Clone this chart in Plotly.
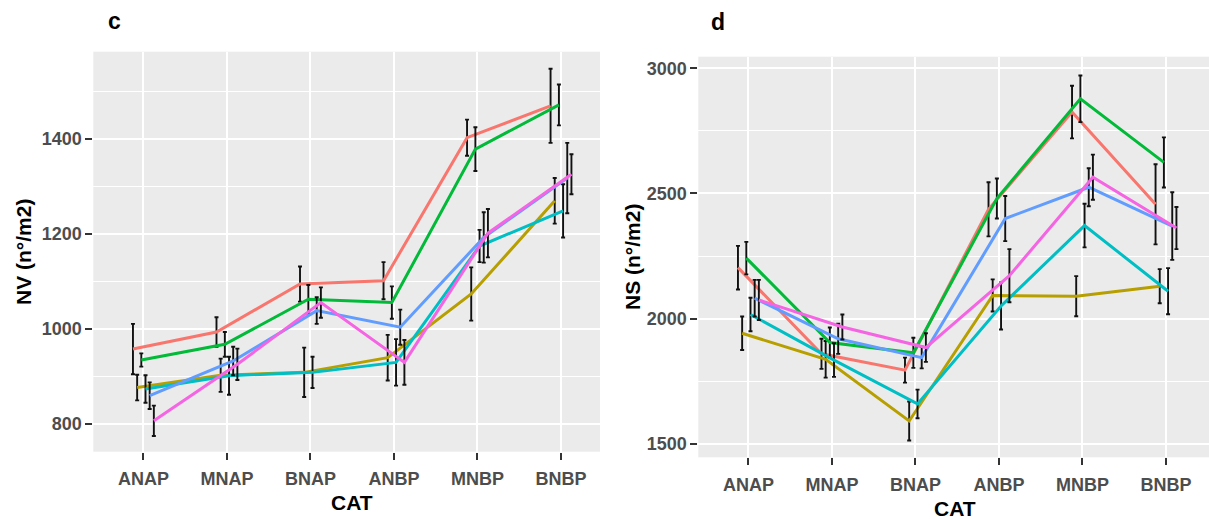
import plotly.graph_objects as go

# Categories on the x axis
categories = ["ANAP", "MNAP", "BNAP", "ANBP", "MNBP", "BNBP"]

# Six treatment groups, ggplot hue palette order
group_names = ["T1", "T2", "T3", "T4", "T5", "T6"]
group_colors = ["#F8766D", "#B79F00", "#00BA38", "#00BFC4", "#619CFF", "#F564E3"]

# Panel c: NV (n°/m2) means and error half-widths
nv_t1 = [958, 994, 1095, 1102, 1403, 1470]
nv_t2 = [877, 903, 909, 940, 1074, 1270]
nv_t3 = [935, 968, 1063, 1056, 1379, 1472]
nv_t4 = [874, 902, 909, 930, 1175, 1249]
nv_t5 = [860, 933, 1039, 1004, 1193, 1318]
nv_t6 = [807, 926, 1056, 930, 1202, 1326]

nv_err_t1 = [53, 31, 37, 39, 38, 78]
nv_err_t2 = [27, 35, 52, 48, 56, 48]
nv_err_t3 = [14, 26, 30, 34, 46, 43]
nv_err_t4 = [29, 40, 33, 49, 34, 56]
nv_err_t5 = [28, 30, 28, 37, 53, 74]
nv_err_t6 = [32, 33, 32, 47, 51, 42]

# Panel d: NS (n°/m2) means and error half-widths
ns_t1 = [2204, 1860, 1795, 2437, 2825, 2457]
ns_t2 = [1942, 1838, 1592, 2093, 2090, 2130]
ns_t3 = [2242, 1905, 1864, 2480, 2878, 2624]
ns_t4 = [2017, 1835, 1660, 2051, 2372, 2110]
ns_t5 = [2082, 1920, 1845, 2400, 2525, 2370]
ns_t6 = [2075, 1967, 1885, 2172, 2565, 2362]

ns_err_t1 = [87, 60, 50, 108, 105, 160]
ns_err_t2 = [67, 73, 78, 64, 80, 68]
ns_err_t3 = [65, 60, 60, 80, 93, 100]
ns_err_t4 = [67, 67, 57, 94, 87, 92]
ns_err_t5 = [73, 60, 43, 90, 76, 135]
ns_err_t6 = [80, 50, 57, 106, 90, 84]

nv_series = [nv_t1, nv_t2, nv_t3, nv_t4, nv_t5, nv_t6]
nv_errors = [nv_err_t1, nv_err_t2, nv_err_t3, nv_err_t4, nv_err_t5, nv_err_t6]
ns_series = [ns_t1, ns_t2, ns_t3, ns_t4, ns_t5, ns_t6]
ns_errors = [ns_err_t1, ns_err_t2, ns_err_t3, ns_err_t4, ns_err_t5, ns_err_t6]

W, H = 1209, 519
DODGE = 0.3  # total dodge width in category units
n_groups = len(group_names)
FONT = "Liberation Sans, Arial, sans-serif"

fig = go.Figure()


def add_panel(series, errors, xref, yref):
    for k, (name, color, vals, errs) in enumerate(zip(group_names, group_colors, series, errors)):
        offset = (k - (n_groups - 1) / 2) * DODGE / n_groups
        xs = [i + offset for i in range(len(categories))]
        fig.add_trace(go.Scatter(
            x=xs, y=vals, name=name, mode="lines",
            line=dict(color=color, width=3),
            error_y=dict(type="data", array=errs, visible=True,
                         color="#111111", thickness=1.9, width=2),
            xaxis=xref, yaxis=yref, showlegend=False,
        ))


add_panel(nv_series, nv_errors, "x", "y")
add_panel(ns_series, ns_errors, "x2", "y2")

tick_font = dict(family=FONT, size=18, color="#4D4D4D", weight="bold")
grid_major = "#FFFFFF"

xaxis_common = dict(
    tickmode="array", tickvals=list(range(len(categories))), ticktext=categories,
    showgrid=True, gridcolor=grid_major, gridwidth=1.6,
    ticks="outside", ticklen=7, tickwidth=1.5, tickcolor="#333333",
    tickfont=tick_font, zeroline=False, showline=False, automargin=False,
    ticklabelstandoff=4,
)
yaxis_common = dict(
    showgrid=True, gridcolor=grid_major, gridwidth=1.6,
    ticks="outside", ticklen=7, tickwidth=1.5, tickcolor="#333333",
    tickfont=tick_font, zeroline=False, showline=False, automargin=False,
)

# Panel boxes in pixels (left, right, top, bottom)
c_box = (93.3, 600.0, 51.7, 451.7)
d_box = (698.3, 1209.0, 56.7, 457.3)


def xdom(b):
    return [b[0] / W, b[1] / W]


def ydom(b):
    return [1 - b[3] / H, 1 - b[2] / H]


fig.update_layout(
    width=W, height=H,
    margin=dict(l=0, r=0, t=0, b=0),
    paper_bgcolor="white",
    plot_bgcolor="#EBEBEB",
    xaxis=dict(domain=xdom(c_box), range=[-0.6, 5.467], anchor="y", **xaxis_common),
    yaxis=dict(domain=ydom(c_box), range=[742, 1584], anchor="x",
               tickvals=[800, 1000, 1200, 1400],
               minor=dict(tickvals=[900, 1100, 1300, 1500], showgrid=True,
                          gridcolor=grid_major, gridwidth=0.8, ticks=""),
               **yaxis_common),
    xaxis2=dict(domain=xdom(d_box), range=[-0.6, 5.515], anchor="y2", **xaxis_common),
    yaxis2=dict(domain=ydom(d_box), range=[1447, 3046], anchor="x2",
                tickvals=[1500, 2000, 2500, 3000],
                minor=dict(tickvals=[1750, 2250, 2750], showgrid=True,
                           gridcolor=grid_major, gridwidth=0.8, ticks=""),
                **yaxis_common),
)

title_font = dict(family=FONT, size=21, color="#000000", weight="bold")
panel_font = dict(family=FONT, size=23, color="#000000", weight="bold")

annotations = [
    dict(text="c", x=114 / W, y=1 - 21 / H, font=panel_font),
    dict(text="d", x=718 / W, y=1 - 22 / H, font=panel_font),
    dict(text="NV (n°/m2)", x=23 / W, y=1 - 252 / H, textangle=-90, font=title_font),
    dict(text="NS (n°/m2)", x=632 / W, y=1 - 257 / H, textangle=-90, font=title_font),
    dict(text="CAT", x=352 / W, y=1 - 502 / H, font=title_font),
    dict(text="CAT", x=955 / W, y=1 - 508 / H, font=title_font),
]
for a in annotations:
    a.update(xref="paper", yref="paper", showarrow=False, xanchor="center", yanchor="middle")
fig.update_layout(annotations=annotations)

fig.write_html("out.html")
